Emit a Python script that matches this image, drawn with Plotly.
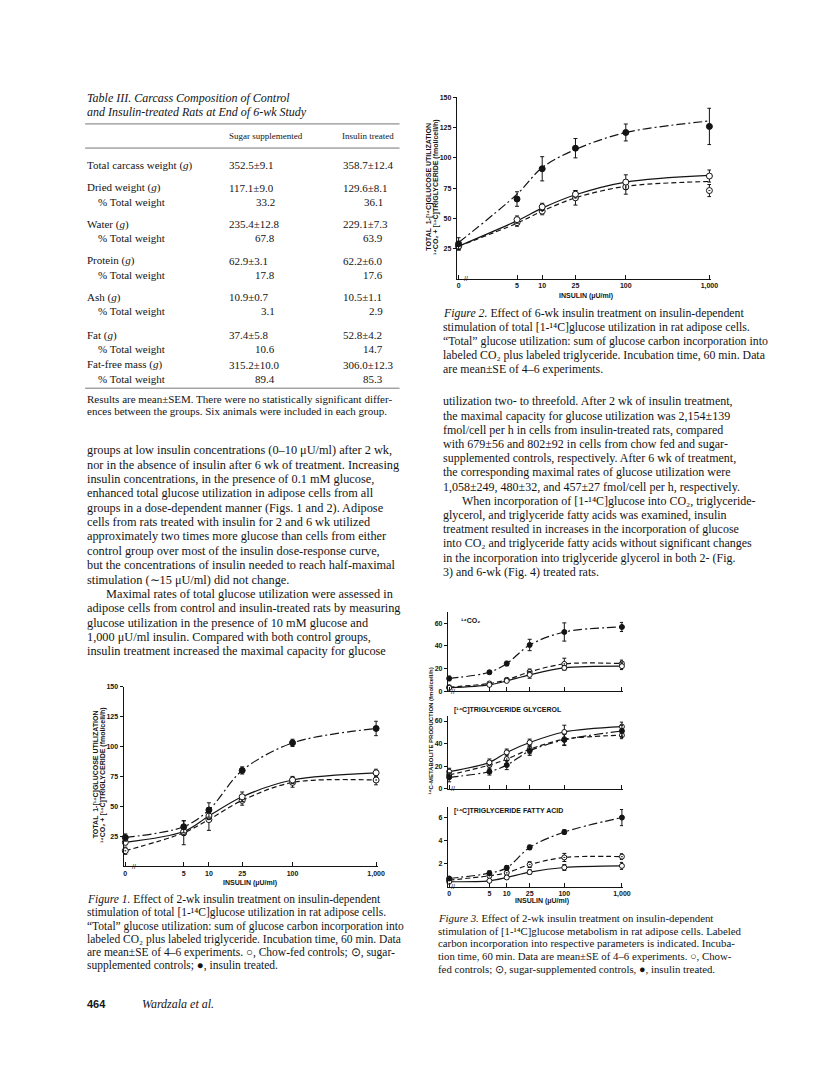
import plotly.graph_objects as go

W, H = 816, 1071
def PX(x): return x / W
def PY(y): return 1 - y / H

INK = "#141414"
SERIF = "Liberation Serif"
SANS = "Liberation Sans"

# ---------------- data ----------------
insulin_doses = [0, 5, 10, 25, 100, 1000]
insulin_ticktext = ["0", "5", "10", "25", "100", "1,000"]
# dose 0 is drawn at 10^0 on the broken log axis
xpos = [d if d > 0 else 1 for d in insulin_doses]

# Figure 1 (2-wk treatment) total glucose utilization, fmol/cell/h
fig1_chow = [20, 29, 42, 58, 72, 78]
fig1_chow_se = [2, 3, 3, 4, 3, 3]
fig1_sugar = [13, 28, 39, 55, 70, 72]
fig1_sugar_se = [3, 10, 9, 4, 4, 4]
fig1_insulin = [24, 33, 47, 80, 103, 115]
fig1_insulin_se = [3, 5, 6, 3, 3, 6]

# Figure 2 (6-wk treatment)
fig2_chow = [27, 49, 59.5, 70, 80, 85]
fig2_chow_se = [3, 3, 3, 3, 6, 5]
fig2_sugar = [27, 46.5, 56, 67, 76, 73]
fig2_sugar_se = [3, 3, 3, 6, 6, 5]
fig2_insulin = [29, 66, 91, 108, 121, 126]
fig2_insulin_se = [5, 6, 10, 8, 7, 15]
fig2_chow_fit = [27, 48, 58.5, 69.5, 80, 85.5]
fig2_sugar_fit = [27, 46, 56, 67, 76.5, 80.5]
fig2_insulin_fit = [30, 70, 92, 107, 121, 130.5]

# Figure 3 panels
co2_chow = [3.2, 5.8, 9.3, 14.6, 20.7, 22.2]
co2_chow_se = [1, 1, 1.5, 3, 2, 3]
co2_sugar = [3.8, 7, 10.2, 17.2, 24.2, 24.5]
co2_sugar_se = [1, 1, 1.5, 2.5, 5, 3]
co2_insulin = [11.4, 16.9, 24.5, 40.8, 52.2, 56.6]
co2_insulin_se = [2, 1.5, 2, 5, 8, 4]

tgg_chow = [15.2, 23.4, 32.2, 41, 50.3, 55]
tgg_chow_se = [3, 3, 3, 3, 6, 4]
tgg_sugar = [12.3, 21, 26.3, 35, 43.9, 47.4]
tgg_sugar_se = [3, 4, 4, 4, 5, 3]
tgg_insulin = [10.2, 15.2, 21, 33.6, 43.3, 51.2]
tgg_insulin_se = [4, 3, 4, 4, 5, 5]

tgfa_chow = [0.43, 0.51, 0.8, 1.26, 1.66, 1.8]
tgfa_chow_se = [0.1, 0.1, 0.15, 0.2, 0.25, 0.3]
tgfa_sugar = [0.57, 0.94, 1.2, 1.91, 2.53, 2.6]
tgfa_sugar_se = [0.1, 0.15, 0.2, 0.25, 0.35, 0.25]
tgfa_insulin = [0.71, 1.17, 1.63, 3.4, 4.73, 5.98]
tgfa_insulin_se = [0.15, 0.2, 0.2, 0.2, 0.2, 0.7]

# Table III
table_labels = ["Total carcass weight (<i>g</i>)", "Dried weight (<i>g</i>)", "% Total weight",
                "Water (<i>g</i>)", "% Total weight", "Protein (<i>g</i>)", "% Total weight",
                "Ash (<i>g</i>)", "% Total weight", "Fat (<i>g</i>)", "% Total weight",
                "Fat-free mass (<i>g</i>)", "% Total weight"]
table_sugar = ["352.5±9.1", "117.1±9.0", "33.2", "235.4±12.8", "67.8", "62.9±3.1", "17.8",
               "10.9±0.7", "3.1", "37.4±5.8", "10.6", "315.2±10.0", "89.4"]
table_insulin = ["358.7±12.4", "129.6±8.1", "36.1", "229.1±7.3", "63.9", "62.2±6.0", "17.6",
                 "10.5±1.1", "2.9", "52.8±4.2", "14.7", "306.0±12.3", "85.3"]
table_row_y = [162.3, 185, 199, 221.7, 235.7, 258.3, 272.7, 295, 309.3, 333.3, 347.7, 363.3, 377.3]

fig = go.Figure()

STY = {
    "chow": dict(symbol="circle", fill="white", dash="solid"),
    "sugar": dict(symbol="circle-dot", fill="white", dash="5px,3px"),
    "insulin": dict(symbol="circle", fill=INK, dash="9px,3px,2px,3px"),
}

def add_series(n, y, se, kind, fit=None, msize=6):
    s = STY[kind]
    xa = "x" if n == 1 else f"x{n}"
    ya = "y" if n == 1 else f"y{n}"
    fig.add_trace(go.Scatter(x=xpos, y=fit if fit is not None else y, mode="lines",
                             line=dict(color=INK, width=1.2, dash=s["dash"], shape="spline", smoothing=0.9),
                             xaxis=xa, yaxis=ya, hoverinfo="skip", showlegend=False, cliponaxis=False))
    fig.add_trace(go.Scatter(x=xpos, y=y, mode="markers",
                             marker=dict(symbol=s["symbol"], size=msize, color=s["fill"],
                                         line=dict(color=INK, width=1)),
                             error_y=dict(type="data", array=se, visible=True, thickness=1, width=2, color=INK),
                             xaxis=xa, yaxis=ya, showlegend=False, cliponaxis=False))

add_series(1, fig1_sugar, fig1_sugar_se, "sugar")
add_series(1, fig1_chow, fig1_chow_se, "chow")
add_series(1, fig1_insulin, fig1_insulin_se, "insulin")

add_series(2, fig2_sugar, fig2_sugar_se, "sugar", fit=fig2_sugar_fit)
add_series(2, fig2_chow, fig2_chow_se, "chow", fit=fig2_chow_fit)
add_series(2, fig2_insulin, fig2_insulin_se, "insulin", fit=fig2_insulin_fit)

add_series(3, co2_sugar, co2_sugar_se, "sugar", msize=5)
add_series(3, co2_chow, co2_chow_se, "chow", msize=5)
add_series(3, co2_insulin, co2_insulin_se, "insulin", msize=5)

add_series(4, tgg_sugar, tgg_sugar_se, "sugar", msize=5)
add_series(4, tgg_chow, tgg_chow_se, "chow", msize=5)
add_series(4, tgg_insulin, tgg_insulin_se, "insulin", msize=5)

add_series(5, tgfa_sugar, tgfa_sugar_se, "sugar", msize=5)
add_series(5, tgfa_chow, tgfa_chow_se, "chow", msize=5)
add_series(5, tgfa_insulin, tgfa_insulin_se, "insulin", msize=5)

TICKFONT = dict(family=SANS, size=7, color=INK, weight="bold")

def xaxis(n, x0, x1, labels):
    return dict(type="log", range=[-0.02, 3.02], domain=[PX(x0), PX(x1)],
                anchor="y" if n == 1 else f"y{n}",
                showline=True, linecolor=INK, linewidth=1.2, mirror=False,
                ticks="inside", ticklen=4, tickwidth=1, tickcolor=INK,
                tickmode="array", tickvals=xpos, ticktext=insulin_ticktext,
                showticklabels=labels, tickfont=TICKFONT, showgrid=False, zeroline=False,
                fixedrange=True)

def yaxis(n, ytop_px, ybot_px, top, tickvals):
    return dict(range=[0, top], domain=[PY(ybot_px), PY(ytop_px)],
                anchor="x" if n == 1 else f"x{n}",
                showline=True, linecolor=INK, linewidth=1.2, mirror=False,
                ticks="outside", ticklen=3, tickwidth=1, tickcolor=INK,
                tickmode="array", tickvals=tickvals, ticktext=[str(v) for v in tickvals],
                tickfont=TICKFONT, showgrid=False, zeroline=False, fixedrange=True)

layout = dict(width=W, height=H, margin=dict(l=0, r=0, t=0, b=0),
              paper_bgcolor="white", plot_bgcolor="rgba(0,0,0,0)", showlegend=False)
layout["xaxis"] = xaxis(1, 124, 381, True)
layout["yaxis"] = yaxis(1, 687, 868, 150, [25, 50, 75, 100, 125, 150])
layout["xaxis2"] = xaxis(2, 461, 718, True)
layout["yaxis2"] = yaxis(2, 94, 276.7, 150, [25, 50, 75, 100, 125, 150])
layout["xaxis3"] = xaxis(3, 452, 629, False)
layout["yaxis3"] = yaxis(3, 611.7, 692, 70, [0, 20, 40, 60])
layout["xaxis4"] = xaxis(4, 452, 629, False)
layout["yaxis4"] = yaxis(4, 716.5, 790, 64.6, [0, 20, 40, 60])
layout["xaxis5"] = xaxis(5, 452, 629, True)
layout["yaxis5"] = yaxis(5, 808, 888.5, 6.92, [2, 4, 6])

ann = []
def T(x, y, text, size=12, family=SERIF, xanchor="left", angle=0, weight="normal"):
    ann.append(dict(x=PX(x), y=PY(y), xref="paper", yref="paper", text=text, showarrow=False,
                    xanchor=xanchor, yanchor="middle", textangle=angle, borderpad=0,
                    font=dict(family=family, size=size, color=INK, weight=weight)))

# ---- Table III ----
T(86, 95, "<i>Table III. Carcass Composition of Control</i>", 12)
T(86, 109, "<i>and Insulin-treated Rats at End of 6-wk Study</i>", 12)
T(268, 133.3, "Sugar supplemented", 9, xanchor="center")
T(371, 133.3, "Insulin treated", 9, xanchor="center")
for lab, sv, iv, yy in zip(table_labels, table_sugar, table_insulin, table_row_y):
    indent = lab.startswith("%")
    T(96.7 if indent else 86, yy, lab, 11)
    if "±" in sv:
        T(230, yy, sv, 11)
        T(345, yy, iv, 11)
    else:
        T(278, yy, sv, 11, xanchor="right")
        T(387, yy, iv, 11, xanchor="right")
T(86, 397.7, "Results are mean±SEM. There were no statistically significant differ-", 11)
T(86, 410, "ences between the groups. Six animals were included in each group.", 11)

shapes = []
for yy in (120.7, 145, 386.7):
    shapes.append(dict(type="line", xref="paper", yref="paper", x0=PX(85), x1=PX(403),
                       y0=PY(yy), y1=PY(yy), line=dict(color="#777", width=1)))

# ---- left body text ----
left_lines = [
    "groups at low insulin concentrations (0–10 μU/ml) after 2 wk,",
    "nor in the absence of insulin after 6 wk of treatment. Increasing",
    "insulin concentrations, in the presence of 0.1 mM glucose,",
    "enhanced total glucose utilization in adipose cells from all",
    "groups in a dose-dependent manner (Figs. 1 and 2). Adipose",
    "cells from rats treated with insulin for 2 and 6 wk utilized",
    "approximately two times more glucose than cells from either",
    "control group over most of the insulin dose-response curve,",
    "but the concentrations of insulin needed to reach half-maximal",
    "stimulation (∼15 μU/ml) did not change.",
    "Maximal rates of total glucose utilization were assessed in",
    "adipose cells from control and insulin-treated rats by measuring",
    "glucose utilization in the presence of 10 mM glucose and",
    "1,000 μU/ml insulin. Compared with both control groups,",
    "insulin treatment increased the maximal capacity for glucose",
]
for i, line in enumerate(left_lines):
    T(105 if i == 10 else 86, 449.3 + i * 14.45, line, 12.3)

# ---- right body text ----
right_lines = [
    "utilization two- to threefold. After 2 wk of insulin treatment,",
    "the maximal capacity for glucose utilization was 2,154±139",
    "fmol/cell per h in cells from insulin-treated rats, compared",
    "with 679±56 and 802±92 in cells from chow fed and sugar-",
    "supplemented controls, respectively. After 6 wk of treatment,",
    "the corresponding maximal rates of glucose utilization were",
    "1,058±249, 480±32, and 457±27 fmol/cell per h, respectively.",
    "When incorporation of [1-¹⁴C]glucose into CO₂, triglyceride-",
    "glycerol, and triglyceride fatty acids was examined, insulin",
    "treatment resulted in increases in the incorporation of glucose",
    "into CO₂ and triglyceride fatty acids without significant changes",
    "in the incorporation into triglyceride glycerol in both 2- (Fig.",
    "3) and 6-wk (Fig. 4) treated rats.",
]
for i, line in enumerate(right_lines):
    T(465 if i == 7 else 446, 400 + i * 14.3, line, 12)

# ---- captions ----
cap1 = [
    "<i>Figure 1.</i> Effect of 2-wk insulin treatment on insulin-dependent",
    "stimulation of total [1-¹⁴C]glucose utilization in rat adipose cells.",
    "“Total” glucose utilization: sum of glucose carbon incorporation into",
    "labeled CO₂ plus labeled triglyceride. Incubation time, 60 min. Data",
    "are mean±SE of 4–6 experiments. ○, Chow-fed controls; ⊙, sugar-",
    "supplemented controls; ●, insulin treated.",
]
for i, line in enumerate(cap1):
    T(86, 901.7 + i * 13.2, line, 11.5)

cap2 = [
    "<i>Figure 2.</i> Effect of 6-wk insulin treatment on insulin-dependent",
    "stimulation of total [1-¹⁴C]glucose utilization in rat adipose cells.",
    "“Total” glucose utilization: sum of glucose carbon incorporation into",
    "labeled CO₂ plus labeled triglyceride. Incubation time, 60 min. Data",
    "are mean±SE of 4–6 experiments.",
]
for i, line in enumerate(cap2):
    T(446, 311 + i * 14, line, 11.8)

cap3 = [
    "<i>Figure 3.</i> Effect of 2-wk insulin treatment on insulin-dependent",
    "stimulation of [1-¹⁴C]glucose metabolism in rat adipose cells. Labeled",
    "carbon incorporation into respective parameters is indicated. Incuba-",
    "tion time, 60 min. Data are mean±SE of 4–6 experiments. ○, Chow-",
    "fed controls; ⊙, sugar-supplemented controls, ●, insulin treated.",
]
for i, line in enumerate(cap3):
    T(441, 920 + i * 12.75, line, 10.8)

# footer
T(86, 1006.7, "464", 11, family=SANS, weight="bold")
T(142, 1006.7, "<i>Wardzala et al.</i>", 12)

# ---- figure axis labels ----
AX = dict(family=SANS, weight="bold")
T(252, 885, "INSULIN (μU/ml)", 7, xanchor="center", **AX)
T(592, 294.3, "INSULIN (μU/ml)", 7, xanchor="center", **AX)
T(547.3, 903.3, "INSULIN (μU/ml)", 7, xanchor="center", **AX)

T(95.7, 775.7, "TOTAL  1-[¹⁴C]GLUCOSE UTILIZATION", 7, xanchor="center", angle=-90, **AX)
T(102.5, 775.7, "¹⁴CO₂ + [¹⁴C]TRIGLYCERIDE (fmol/cell/h)", 7, xanchor="center", angle=-90, **AX)
T(432.7, 184, "TOTAL  1-[¹⁴C]GLUCOSE UTILIZATION", 7, xanchor="center", angle=-90, **AX)
T(440, 184, "¹⁴CO₂ + [¹⁴C]TRIGLYCERIDE (fmol/cell/h)", 7, xanchor="center", angle=-90, **AX)
T(435, 732, "¹⁴C-METABOLITE PRODUCTION (fmol/cell/h)", 6, xanchor="center", angle=-90, **AX)

T(464, 620.7, "¹⁴CO₂", 7, **AX)
T(457, 710.5, "[¹⁴C]TRIGLYCERIDE GLYCEROL", 7, **AX)
T(457, 812.7, "[¹⁴C]TRIGLYCERIDE FATTY ACID", 7, **AX)

# axis break marks
for (bx, by) in [(134, 868), (470, 276.7), (457, 692), (457, 790), (457, 888.5)]:
    T(bx, by, "//", 7, family=SANS, xanchor="center")

layout["annotations"] = ann
layout["shapes"] = shapes
fig.update_layout(**layout)
fig.write_html("out.html", config={"displayModeBar": False},
               post_script="document.body.style.margin='0';document.body.style.padding='0';")
